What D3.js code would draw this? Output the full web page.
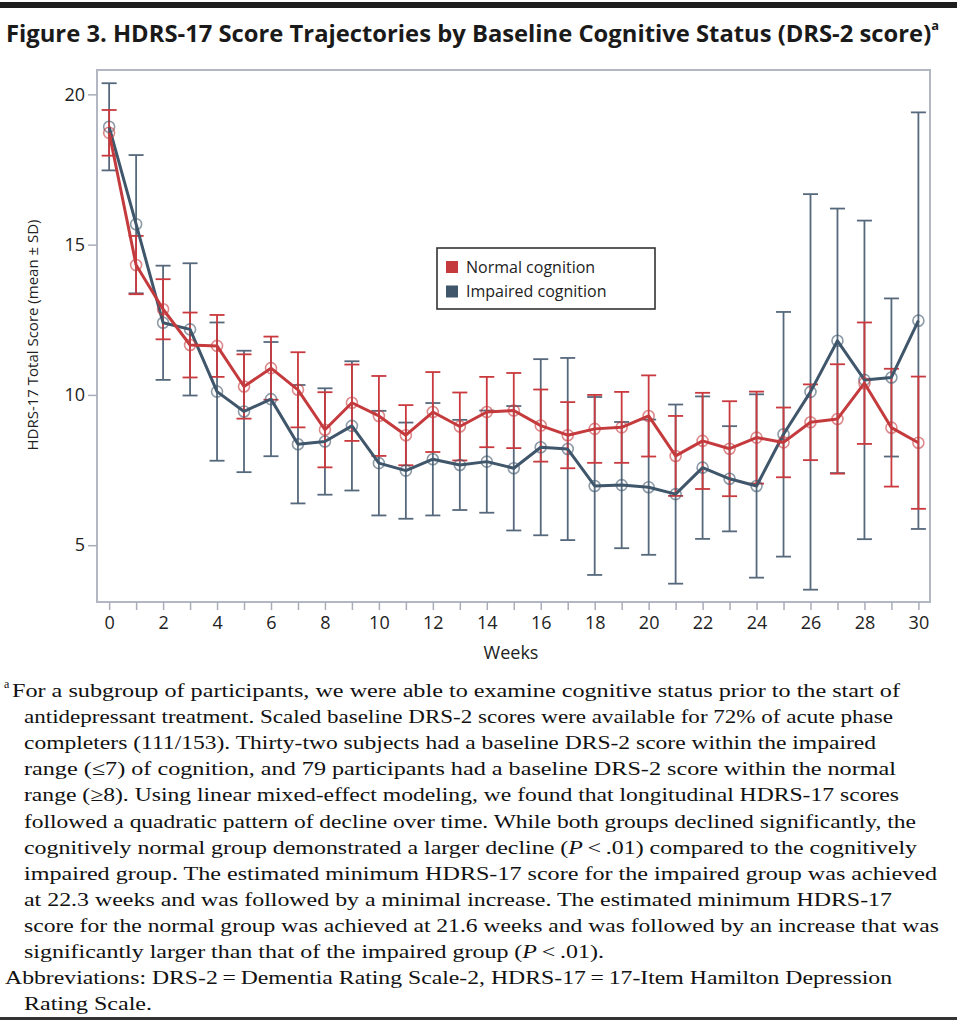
<!DOCTYPE html>
<html>
<head>
<meta charset="utf-8">
<script src="https://cdn.jsdelivr.net/npm/d3@7"></script>
<style>
  body { margin: 0; background: #fff; }
  svg { display: block; }
  .tick text { font-family: "Open Sans", "Noto Sans", sans-serif; font-size: 18px; fill: #222; }
  .tick line { stroke: #a9adba; stroke-width: 1.5; }
  .nota { font-family: "Liberation Serif", "DejaVu Serif", serif; font-size: 19px; fill: #111; }
</style>
</head>
<body>
<svg width="957" height="1024"></svg>
<script>

// Datos
let semanas = d3.range(0, 31)

let normal_media = [18.72, 14.32, 12.85, 11.66, 11.63, 10.28, 10.89, 10.17, 8.84, 9.74, 9.30, 8.66, 9.43, 8.95, 9.43, 9.48,
  8.98, 8.66, 8.87, 8.92, 9.30, 7.97, 8.47, 8.21, 8.58, 8.42, 9.09, 9.20, 10.39, 8.91, 8.41]
let normal_sd = [0.76, 0.97, 1.0, 1.08, 1.03, 1.07, 1.05, 1.25, 1.25, 1.27, 1.33, 1.0, 1.33, 1.13, 1.17, 1.25,
  1.2, 1.1, 1.13, 1.18, 1.35, 1.33, 1.6, 1.58, 1.53, 1.16, 1.26, 1.82, 2.02, 1.96, 2.2]

let impar_media = [18.92, 15.68, 12.40, 12.18, 10.11, 9.45, 9.86, 8.36, 8.45, 8.97, 7.73, 7.48, 7.86, 7.67, 7.78, 7.56,
  8.26, 8.20, 6.97, 7.00, 6.93, 6.70, 7.58, 7.21, 6.97, 8.69, 10.10, 11.80, 10.50, 10.58, 12.47]
let impar_sd = [1.45, 2.3, 1.9, 2.2, 2.3, 2.02, 1.9, 1.97, 1.77, 2.15, 1.74, 1.6, 1.87, 1.5, 1.7, 2.07,
  2.93, 3.03, 2.96, 2.1, 2.25, 2.98, 2.37, 1.75, 3.05, 4.07, 6.58, 4.4, 5.3, 2.63, 6.93]

let ticks_y = [5, 10, 15, 20]
let ticks_x_etiqueta = d3.range(0, 31, 2)

let leyenda = ['Normal cognition', 'Impaired cognition']

let titulo = 'Figure 3. HDRS-17 Score Trajectories by Baseline Cognitive Status (DRS-2 score)'

let nota = [
  'For a subgroup of participants, we were able to examine cognitive status prior to the start of',
  'antidepressant treatment. Scaled baseline DRS-2 scores were available for 72% of acute phase',
  'completers (111/153). Thirty-two subjects had a baseline DRS-2 score within the impaired',
  'range (\u22647) of cognition, and 79 participants had a baseline DRS-2 score within the normal',
  'range (\u22658). Using linear mixed-effect modeling, we found that longitudinal HDRS-17 scores',
  'followed a quadratic pattern of decline over time. While both groups declined significantly, the',
  'cognitively normal group demonstrated a larger decline (|P|\u2009<\u2009.01) compared to the cognitively',
  'impaired group. The estimated minimum HDRS-17 score for the impaired group was achieved',
  'at 22.3 weeks and was followed by a minimal increase. The estimated minimum HDRS-17',
  'score for the normal group was achieved at 21.6 weeks and was followed by an increase that was',
  'significantly larger than that of the impaired group (|P|\u2009<\u2009.01).',
  'Abbreviations: DRS-2\u2009=\u2009Dementia Rating Scale-2, HDRS-17\u2009=\u200917-Item Hamilton Depression',
  'Rating Scale.'
]
// x final de cada linea
let nota_fin = [900, 893, 876, 896, 899, 916, 917, 937, 892, 939, 604, 892, 152]


let rojo = '#c43a3d'
let azul = '#3f566b'

let series = [
  {nombre: 'impar', media: impar_media, sd: impar_sd, color: azul, barra: '#56697c'},
  {nombre: 'normal', media: normal_media, sd: normal_sd, color: rojo, barra: '#c9393d'}
]


let svg = d3.select('svg')

/* Titulo */

svg.append('rect').attr('x', 0).attr('y', 2).attr('width', 957).attr('height', 6).attr('fill', '#1e1e1e')

let tit = svg.append('text')
  .attr('x', 6).attr('y', 42)
  .attr('textLength', 933).attr('lengthAdjust', 'spacingAndGlyphs')
  .style('font-family', '"Open Sans", "Noto Sans", sans-serif')
  .style('font-weight', 700).style('font-size', '24px').style('fill', '#1a1a1a')
tit.append('tspan').text(titulo)
tit.append('tspan').attr('dy', -12).style('font-size', '13px').text('a')


/* Escalas */

let x = d3.scaleLinear().domain([-0.45, 30.43]).range([97, 930])
let y = d3.scaleLinear().domain([3.11, 20.81]).range([602, 70])

let g = svg.append('g')

// marco
g.append('rect')
  .attr('x', x.range()[0]).attr('y', y.range()[1])
  .attr('width', x.range()[1] - x.range()[0])
  .attr('height', y.range()[0] - y.range()[1])
  .attr('fill', 'none').attr('stroke', '#b3b7c4').attr('stroke-width', 2)

let eje_x = g.append('g')
  .attr('transform', `translate(0, ${y.range()[0]})`)
  .call(d3.axisBottom(x).tickValues(semanas).tickSize(8).tickPadding(6)
    .tickFormat(d => ticks_x_etiqueta.includes(d) ? d : ''))
eje_x.select('.domain').remove()

let eje_y = g.append('g')
  .attr('transform', `translate(${x.range()[0]}, 0)`)
  .call(d3.axisLeft(y).tickValues(ticks_y).tickSize(9).tickPadding(3))
eje_y.select('.domain').remove()

g.append('text')
  .attr('x', 511).attr('y', 659)
  .attr('text-anchor', 'middle')
  .style('font-family', '"Open Sans", "Noto Sans", sans-serif').style('font-size', '18px').style('fill', '#222')
  .text('Weeks')

g.append('text')
  .attr('transform', 'translate(38, 335) rotate(-90)')
  .attr('text-anchor', 'middle')
  .style('font-family', '"Open Sans", "Noto Sans", sans-serif').style('font-size', '15px').style('fill', '#222')
  .text('HDRS-17 Total Score (mean \u00b1 SD)')


/* Barras de error */

let cap = 7.5

series.forEach(s => {
  let barras = g.append('g').attr('class', 'barras ' + s.nombre)
    .selectAll('g').data(semanas).enter().append('g')
    .attr('stroke', s.barra).attr('stroke-width', 1.8)

  barras.append('line')
    .attr('x1', d => x(d)).attr('x2', d => x(d))
    .attr('y1', d => y(s.media[d] + s.sd[d]))
    .attr('y2', d => y(s.media[d] - s.sd[d]))
  barras.append('line')
    .attr('x1', d => x(d) - cap).attr('x2', d => x(d) + cap)
    .attr('y1', d => y(s.media[d] + s.sd[d])).attr('y2', d => y(s.media[d] + s.sd[d]))
  barras.append('line')
    .attr('x1', d => x(d) - cap).attr('x2', d => x(d) + cap)
    .attr('y1', d => y(s.media[d] - s.sd[d])).attr('y2', d => y(s.media[d] - s.sd[d]))
})


/* Lineas y marcadores */

let linea = d3.line().x(d => x(d[0])).y(d => y(d[1]))

series.forEach(s => {
  let puntos = semanas.map(w => [w, s.media[w]])
  g.append('path')
    .datum(puntos)
    .attr('d', linea)
    .attr('fill', 'none').attr('stroke', s.color).attr('stroke-width', 3)
    .attr('stroke-linejoin', 'round')

  g.append('g').selectAll('circle').data(puntos).enter().append('circle')
    .attr('cx', d => x(d[0])).attr('cy', d => y(d[1]))
    .attr('r', 5.5)
    .attr('fill', 'none').attr('stroke', s.color).attr('stroke-opacity', 0.6).attr('stroke-width', 1.6)
})


/* Leyenda */

let ley = g.append('g').attr('transform', 'translate(437, 248)')
ley.append('rect').attr('width', 218).attr('height', 61)
  .attr('fill', '#fff').attr('stroke', '#333').attr('stroke-width', 1.6)

ley.selectAll('g.item').data(leyenda).enter().append('g')
  .attr('class', 'item')
  .attr('transform', (d, i) => `translate(9, ${13 + i * 24.5})`)
  .each(function(d, i) {
    let it = d3.select(this)
    it.append('rect').attr('width', 12).attr('height', 12)
      .attr('fill', i == 0 ? rojo : azul)
    it.append('text').attr('x', 20).attr('y', 11.5)
      .style('font-family', '"Open Sans", "Noto Sans", sans-serif').style('font-size', '16px').style('fill', '#222')
      .text(d)
  })


/* Nota al pie */

let notas = svg.append('g')

svg.append('text').attr('class', 'nota')
  .attr('x', 4).attr('y', 688).style('font-size', '12px').text('a')

notas.selectAll('text.nota').data(nota).enter().append('text')
  .attr('class', 'nota')
  .attr('x', (d, i) => i == 0 ? 12 : (i == 11 ? 5 : 24))
  .attr('y', (d, i) => 697 + i * 26.1)
  .attr('textLength', (d, i) => nota_fin[i] - (i == 0 ? 12 : (i == 11 ? 5 : 24)))
  .attr('lengthAdjust', 'spacingAndGlyphs')
  .each(function(d) {
    let t = d3.select(this)
    d.split('|').forEach((parte, k) => {
      t.append('tspan').text(parte).style('font-style', k % 2 == 1 ? 'italic' : 'normal')
    })
  })

svg.append('rect').attr('x', 0).attr('y', 1017).attr('width', 957).attr('height', 3).attr('fill', '#333')

</script>
</body>
</html>
